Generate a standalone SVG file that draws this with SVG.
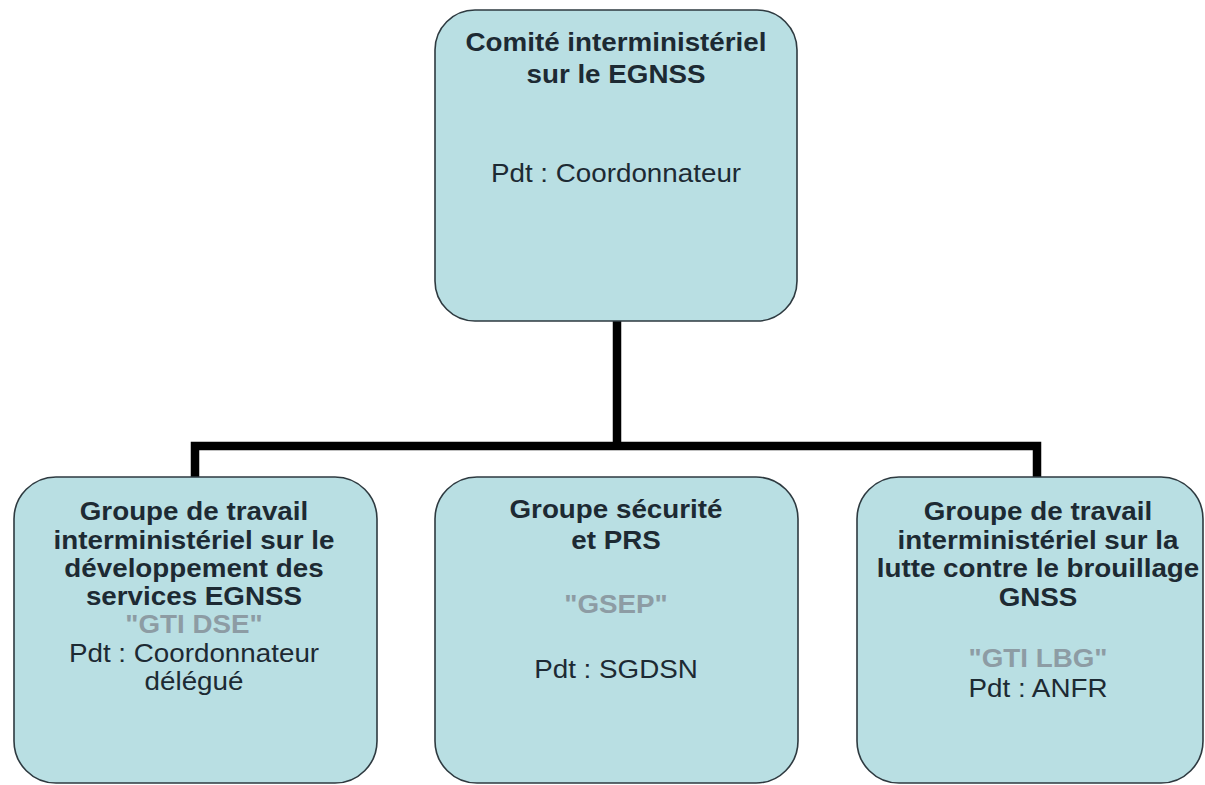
<svg xmlns="http://www.w3.org/2000/svg" width="1205" height="785" viewBox="0 0 1205 785">
<style>
.box{fill:#b9dfe3;stroke:#2e3a40;stroke-width:1.6}
.t{font-family:"Liberation Sans",Arial,sans-serif;font-size:25.5px;text-anchor:middle;fill:#1d2a33}
.b{font-weight:bold}
.g{font-weight:bold;fill:#8d9ca4}
.conn{fill:none;stroke:#000;stroke-width:8.5;stroke-linejoin:miter;stroke-linecap:butt}
</style>
<rect width="1205" height="785" fill="#fff"/>
<g id="connectors">
<path class="conn" d="M617,321 V446"/>
<path class="conn" d="M195,477 V446 H1037 V477"/>
</g>
<g id="node-comite">
<rect class="box" x="435" y="10" width="362" height="311" rx="40" ry="40"/>
<g transform="translate(616,0) scale(1.09,1)">
<text class="t b" x="0" y="51">Comité interministériel</text>
<text class="t b" x="0" y="83">sur le EGNSS</text>
<text class="t" x="0" y="182">Pdt : Coordonnateur</text>
</g>
</g>
<g id="node-gti-dse">
<rect class="box" x="14" y="477" width="363" height="306" rx="42" ry="42"/>
<g transform="translate(194,0) scale(1.09,1)">
<text class="t b" x="0" y="520">Groupe de travail</text>
<text class="t b" x="0" y="549">interministériel sur le</text>
<text class="t b" x="0" y="577">développement des</text>
<text class="t b" x="0" y="605">services EGNSS</text>
<text class="t g" x="0" y="633">"GTI DSE"</text>
<text class="t" x="0" y="662">Pdt : Coordonnateur</text>
<text class="t" x="0" y="690">délégué</text>
</g>
</g>
<g id="node-gsep">
<rect class="box" x="435" y="477" width="363" height="306" rx="42" ry="42"/>
<g transform="translate(616,0) scale(1.09,1)">
<text class="t b" x="0" y="518">Groupe sécurité</text>
<text class="t b" x="0" y="549">et PRS</text>
<text class="t g" x="0" y="613">"GSEP"</text>
<text class="t" x="0" y="678">Pdt : SGDSN</text>
</g>
</g>
<g id="node-gti-lbg">
<rect class="box" x="857" y="477" width="346" height="306" rx="42" ry="42"/>
<g transform="translate(1038,0) scale(1.09,1)">
<text class="t b" x="0" y="520">Groupe de travail</text>
<text class="t b" x="0" y="549">interministériel sur la</text>
<text class="t b" x="0" y="577">lutte contre le brouillage</text>
<text class="t b" x="0" y="606">GNSS</text>
<text class="t g" x="0" y="667">"GTI LBG"</text>
<text class="t" x="0" y="697">Pdt : ANFR</text>
</g>
</g>
</svg>
